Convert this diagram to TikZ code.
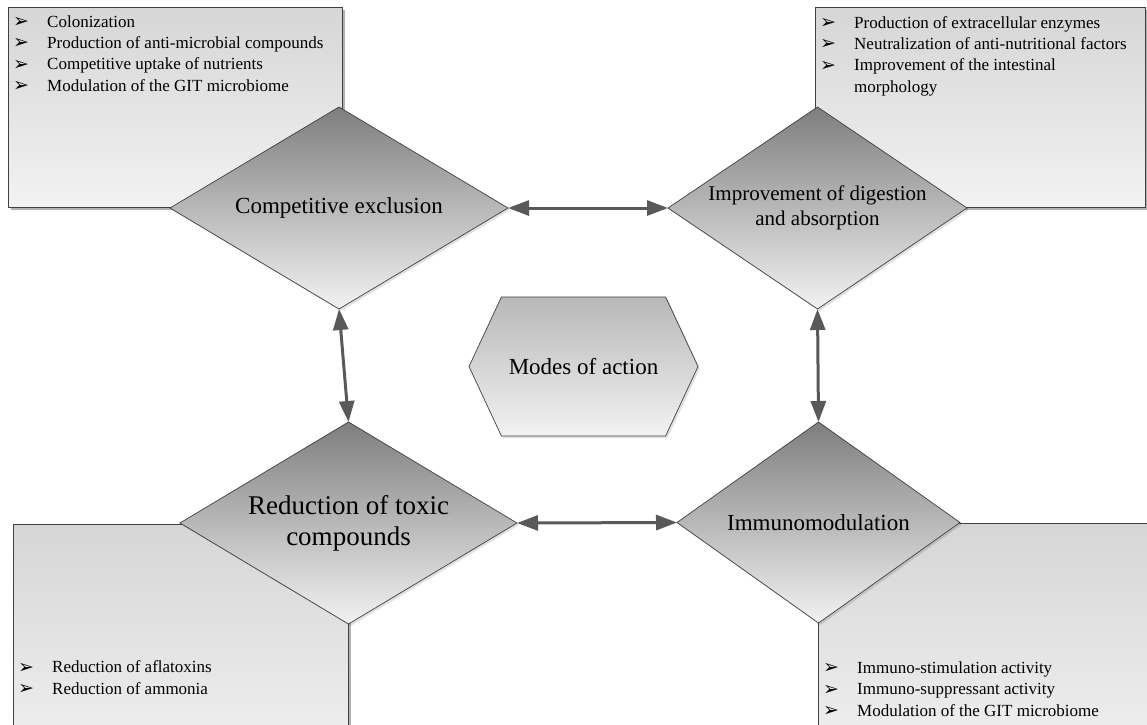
\documentclass[tikz,border=0pt]{standalone}
\usepackage{fontspec}
\setmainfont{Liberation Serif}
\newfontfamily\dvfont{DejaVu Sans}
\usetikzlibrary{shapes.geometric,shapes.symbols,shadows,arrows.meta}
\definecolor{edgec}{HTML}{404040}
\definecolor{arrc}{HTML}{595959}
\definecolor{dtop}{HTML}{7E7E7E}
\definecolor{dbot}{HTML}{F2F2F2}
\definecolor{btop}{HTML}{D6D6D6}
\definecolor{bbot}{HTML}{F2F2F2}
\definecolor{htop}{HTML}{B8B8B8}
\newcommand\blt{\makebox[34pt][l]{\raisebox{-0.5pt}{\dvfont\fontsize{19}{19}\selectfont ➢}}}
\newcommand\ind{\makebox[34pt][l]{}}
\begin{document}
\begin{tikzpicture}[x=1pt,y=-1pt,
  infobox/.style={rectangle, draw=edgec, line width=0.8pt, top color=btop, bottom color=bbot,
    inner sep=0pt, outer sep=0pt, anchor=north west,
    drop shadow={shadow xshift=2.5pt, shadow yshift=-2.5pt, fill=black, opacity=0.3}},
  mode/.style={diamond, draw=edgec, line width=0.7pt, top color=dtop, bottom color=dbot,
    inner sep=0pt, outer sep=0pt, align=center,
    drop shadow={shadow xshift=2pt, shadow yshift=-2pt, fill=black, opacity=0.12}},
  listtext/.style={anchor=base west, align=left, inner sep=0pt, font=\fontsize{17}{21.3}\selectfont},
  link/.style={draw=arrc, line width=3pt, {Triangle[length=21pt,width=15pt]}-{Triangle[length=21pt,width=15pt]}},
]
\useasboundingbox (0,0) rectangle (1147,724);
\clip (0,0) rectangle (1147,724);

% information boxes
\node[infobox, minimum width=334pt, minimum height=200pt] (tlbox) at (8,7) {};
\node[infobox, minimum width=330pt, minimum height=200pt] (trbox) at (815,7) {};
\node[infobox, minimum width=335pt, minimum height=250pt] (blbox) at (13,524) {};
\node[infobox, minimum width=360pt, minimum height=250pt] (brbox) at (818,523) {};

% list texts (anchored at the baseline of their last line)
\node[listtext] (tltext) at (13,91) {\blt Colonization\\ \blt Production of anti-microbial compounds\\ \blt Competitive uptake of nutrients\\ \blt Modulation of the GIT microbiome};
\node[listtext] (trtext) at (820,92) {\blt Production of extracellular enzymes\\ \blt Neutralization of anti-nutritional factors\\ \blt Improvement of the intestinal\\ \ind morphology};
\node[listtext] (bltext) at (18,694) {\blt Reduction of aflatoxins\\ \blt Reduction of ammonia};
\node[listtext] (brtext) at (823,716) {\blt Immuno-stimulation activity\\ \blt Immuno-suppressant activity\\ \blt Modulation of the GIT microbiome};

% modes
\node[mode, aspect=1.67, minimum width=338pt, minimum height=202pt,
  font=\fontsize{23}{27}\selectfont] (ce) at (339,208) {Competitive exclusion};
\node[mode, aspect=1.48, minimum width=299pt, minimum height=202pt,
  font=\fontsize{21}{25.5}\selectfont] (id) at (817.5,208) {\raisebox{-3pt}{Improvement of digestion}\\\raisebox{-3pt}{and absorption}};
\node[mode, aspect=1.67, minimum width=337pt, minimum height=202pt,
  font=\fontsize{27}{31}\selectfont] (rt) at (348.5,523) {Reduction of toxic\\compounds};
\node[mode, aspect=1.41, minimum width=283pt, minimum height=201pt,
  font=\fontsize{23}{27}\selectfont] (im) at (818.5,522.5) {Immunomodulation};

% centre
\node[signal, signal to=west and east, signal pointer angle=130, draw=edgec, line width=0.7pt,
  top color=htop, bottom color=dbot, inner sep=0pt, outer sep=0pt,
  minimum width=229pt, minimum height=139pt, font=\fontsize{23}{27}\selectfont,
  drop shadow={shadow xshift=2pt, shadow yshift=-2pt, fill=black, opacity=0.12}]
  (moa) at (583.5,366.5) {Modes of action};

% connectors
\draw[link] (ce.east) -- (id.west);
\draw[link] (rt.east) -- (im.west);
\draw[link] (ce.south) -- (rt.north);
\draw[link] (id.south) -- (im.north);
\end{tikzpicture}
\end{document}
